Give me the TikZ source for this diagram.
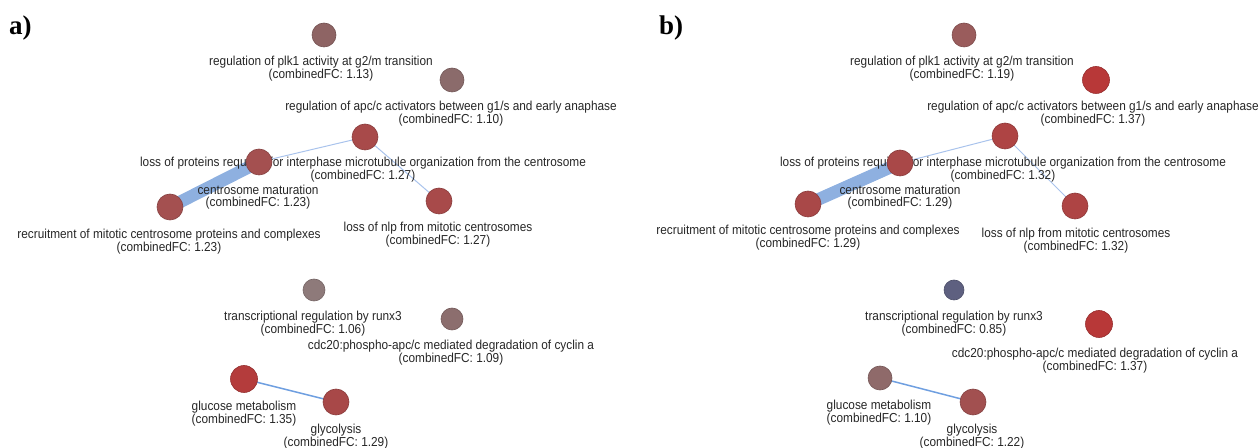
\documentclass[tikz,border=0pt]{standalone}
\usepackage{fontspec}
\setmainfont{Liberation Sans}
\newfontfamily\labfont[FakeStretch=0.91]{Liberation Sans}
\newfontfamily\panelfont{Liberation Serif}
\usetikzlibrary{backgrounds}
\definecolor{txt}{HTML}{262626}
\definecolor{thickedge}{HTML}{8EB0E0}
\definecolor{thinedge}{HTML}{A9C3EC}
\definecolor{glcedge}{HTML}{6F9FE0}
\tikzset{
  term/.style={circle,inner sep=0pt,minimum size=#1,line width=0.6bp},
  tf/.style={fill=#1,draw=#1!82!black},
  lab/.style={align=center,inner sep=0pt,text=txt,font=\labfont\fontsize{13bp}{12bp}\selectfont},
  panel/.style={anchor=base west,inner sep=0pt,font=\panelfont\bfseries\fontsize{27bp}{28bp}\selectfont},
  wide/.style={line width=12.5bp,draw=thickedge},
  slim/.style={line width=1bp,draw=thinedge},
  mid/.style={line width=1.5bp,draw=glcedge}
}
\begin{document}
\begin{tikzpicture}[x=1bp,y=-1bp]
\useasboundingbox (0,0) rectangle (1260,448);
% panel letters
\node[panel] (pa) at (9,35) {a)};
\node[panel] (pb) at (659,35) {b)};
% ---------- labels panel a ----------
\node[lab] (lplka) at (321,69) {regulation of plk1 activity at g2/m transition\\(combinedFC: 1.13)};
\node[lab] (lapca) at (451,114) {regulation of apc/c activators between g1/s and early anaphase\\(combinedFC: 1.10)};
\node[lab] (llossa) at (363,170) {loss of proteins required for interphase microtubule organization from the centrosome\\(combinedFC: 1.27)};
\node[lab] (lcma) at (258,197) {centrosome maturation\\(combinedFC: 1.23)};
\node[lab] (lreca) at (169,242) {recruitment of mitotic centrosome proteins and complexes\\(combinedFC: 1.23)};
\node[lab] (lnlpa) at (438,235) {loss of nlp from mitotic centrosomes\\(combinedFC: 1.27)};
\node[lab] (lrunxa) at (313,324) {transcriptional regulation by runx3\\(combinedFC: 1.06)};
\node[lab] (lcdca) at (451,353) {cdc20:phospho-apc/c mediated degradation of cyclin a\\(combinedFC: 1.09)};
\node[lab] (lglua) at (244,414) {glucose metabolism\\(combinedFC: 1.35)};
\node[lab] (lglya) at (336,437) {glycolysis\\(combinedFC: 1.29)};
% ---------- labels panel b ----------
\node[lab] (lplkb) at (962,69) {regulation of plk1 activity at g2/m transition\\(combinedFC: 1.19)};
\node[lab] (lapcb) at (1093,114) {regulation of apc/c activators between g1/s and early anaphase\\(combinedFC: 1.37)};
\node[lab] (llossb) at (1003,170) {loss of proteins required for interphase microtubule organization from the centrosome\\(combinedFC: 1.32)};
\node[lab] (lcmb) at (900,197) {centrosome maturation\\(combinedFC: 1.29)};
\node[lab] (lrecb) at (808,238) {recruitment of mitotic centrosome proteins and complexes\\(combinedFC: 1.29)};
\node[lab] (lnlpb) at (1076,241) {loss of nlp from mitotic centrosomes\\(combinedFC: 1.32)};
\node[lab] (lrunxb) at (954,324) {transcriptional regulation by runx3\\(combinedFC: 0.85)};
\node[lab] (lcdcb) at (1095,361) {cdc20:phospho-apc/c mediated degradation of cyclin a\\(combinedFC: 1.37)};
\node[lab] (lglub) at (879,413) {glucose metabolism\\(combinedFC: 1.10)};
\node[lab] (lglyb) at (972,437) {glycolysis\\(combinedFC: 1.22)};
% ---------- circles panel a ----------
\definecolor{cplka}{HTML}{8E6464}
\definecolor{capca}{HTML}{8B6B6B}
\definecolor{clossa}{HTML}{A84A4A}
\definecolor{ccma}{HTML}{A45050}
\definecolor{crunxa}{HTML}{8E7A7A}
\definecolor{ccdca}{HTML}{8C6E6E}
\definecolor{cglua}{HTML}{B43C3C}
\definecolor{cglya}{HTML}{A84848}
\node[term=24bp,tf=cplka] (plka) at (324,35) {};
\node[term=24bp,tf=capca] (apca) at (452,80) {};
\node[term=26bp,tf=clossa] (lossa) at (365,137) {};
\node[term=26bp,tf=ccma] (cma) at (259,162) {};
\node[term=26bp,tf=ccma] (reca) at (170,207) {};
\node[term=26bp,tf=clossa] (nlpa) at (439,201) {};
\node[term=22bp,tf=crunxa] (runxa) at (314,290) {};
\node[term=22bp,tf=ccdca] (cdca) at (452,319) {};
\node[term=27bp,tf=cglua] (glua) at (244,379) {};
\node[term=26bp,tf=cglya] (glya) at (336,402) {};
% ---------- circles panel b ----------
\definecolor{cplkb}{HTML}{9A5C5C}
\definecolor{capcb}{HTML}{B83838}
\definecolor{clossb}{HTML}{AE4444}
\definecolor{ccmb}{HTML}{A94848}
\definecolor{crunxb}{HTML}{5E6080}
\definecolor{cglub}{HTML}{8F6A6A}
\definecolor{cglyb}{HTML}{A25050}
\node[term=24bp,tf=cplkb] (plkb) at (964,35) {};
\node[term=27bp,tf=capcb] (apcb) at (1096,80) {};
\node[term=26bp,tf=clossb] (lossb) at (1005,136) {};
\node[term=26bp,tf=ccmb] (cmb) at (900,163) {};
\node[term=26bp,tf=ccmb] (recb) at (808,204) {};
\node[term=26bp,tf=clossb] (nlpb) at (1075,206) {};
\node[term=20bp,tf=crunxb] (runxb) at (954,290) {};
\node[term=27bp,tf=capcb] (cdcb) at (1099,324) {};
\node[term=24bp,tf=cglub] (glub) at (880,378) {};
\node[term=26bp,tf=cglyb] (glyb) at (973,402) {};
% ---------- edges ----------
\begin{pgfonlayer}{background}
\draw[wide] (reca.center) -- (cma.center);
\draw[slim] (cma.center) -- (lossa.center);
\draw[slim] (lossa.center) -- (nlpa.center);
\draw[mid] (glua.center) -- (glya.center);
\draw[wide] (recb.center) -- (cmb.center);
\draw[slim] (cmb.center) -- (lossb.center);
\draw[slim] (lossb.center) -- (nlpb.center);
\draw[mid] (glub.center) -- (glyb.center);
\end{pgfonlayer}
\end{tikzpicture}
\end{document}
